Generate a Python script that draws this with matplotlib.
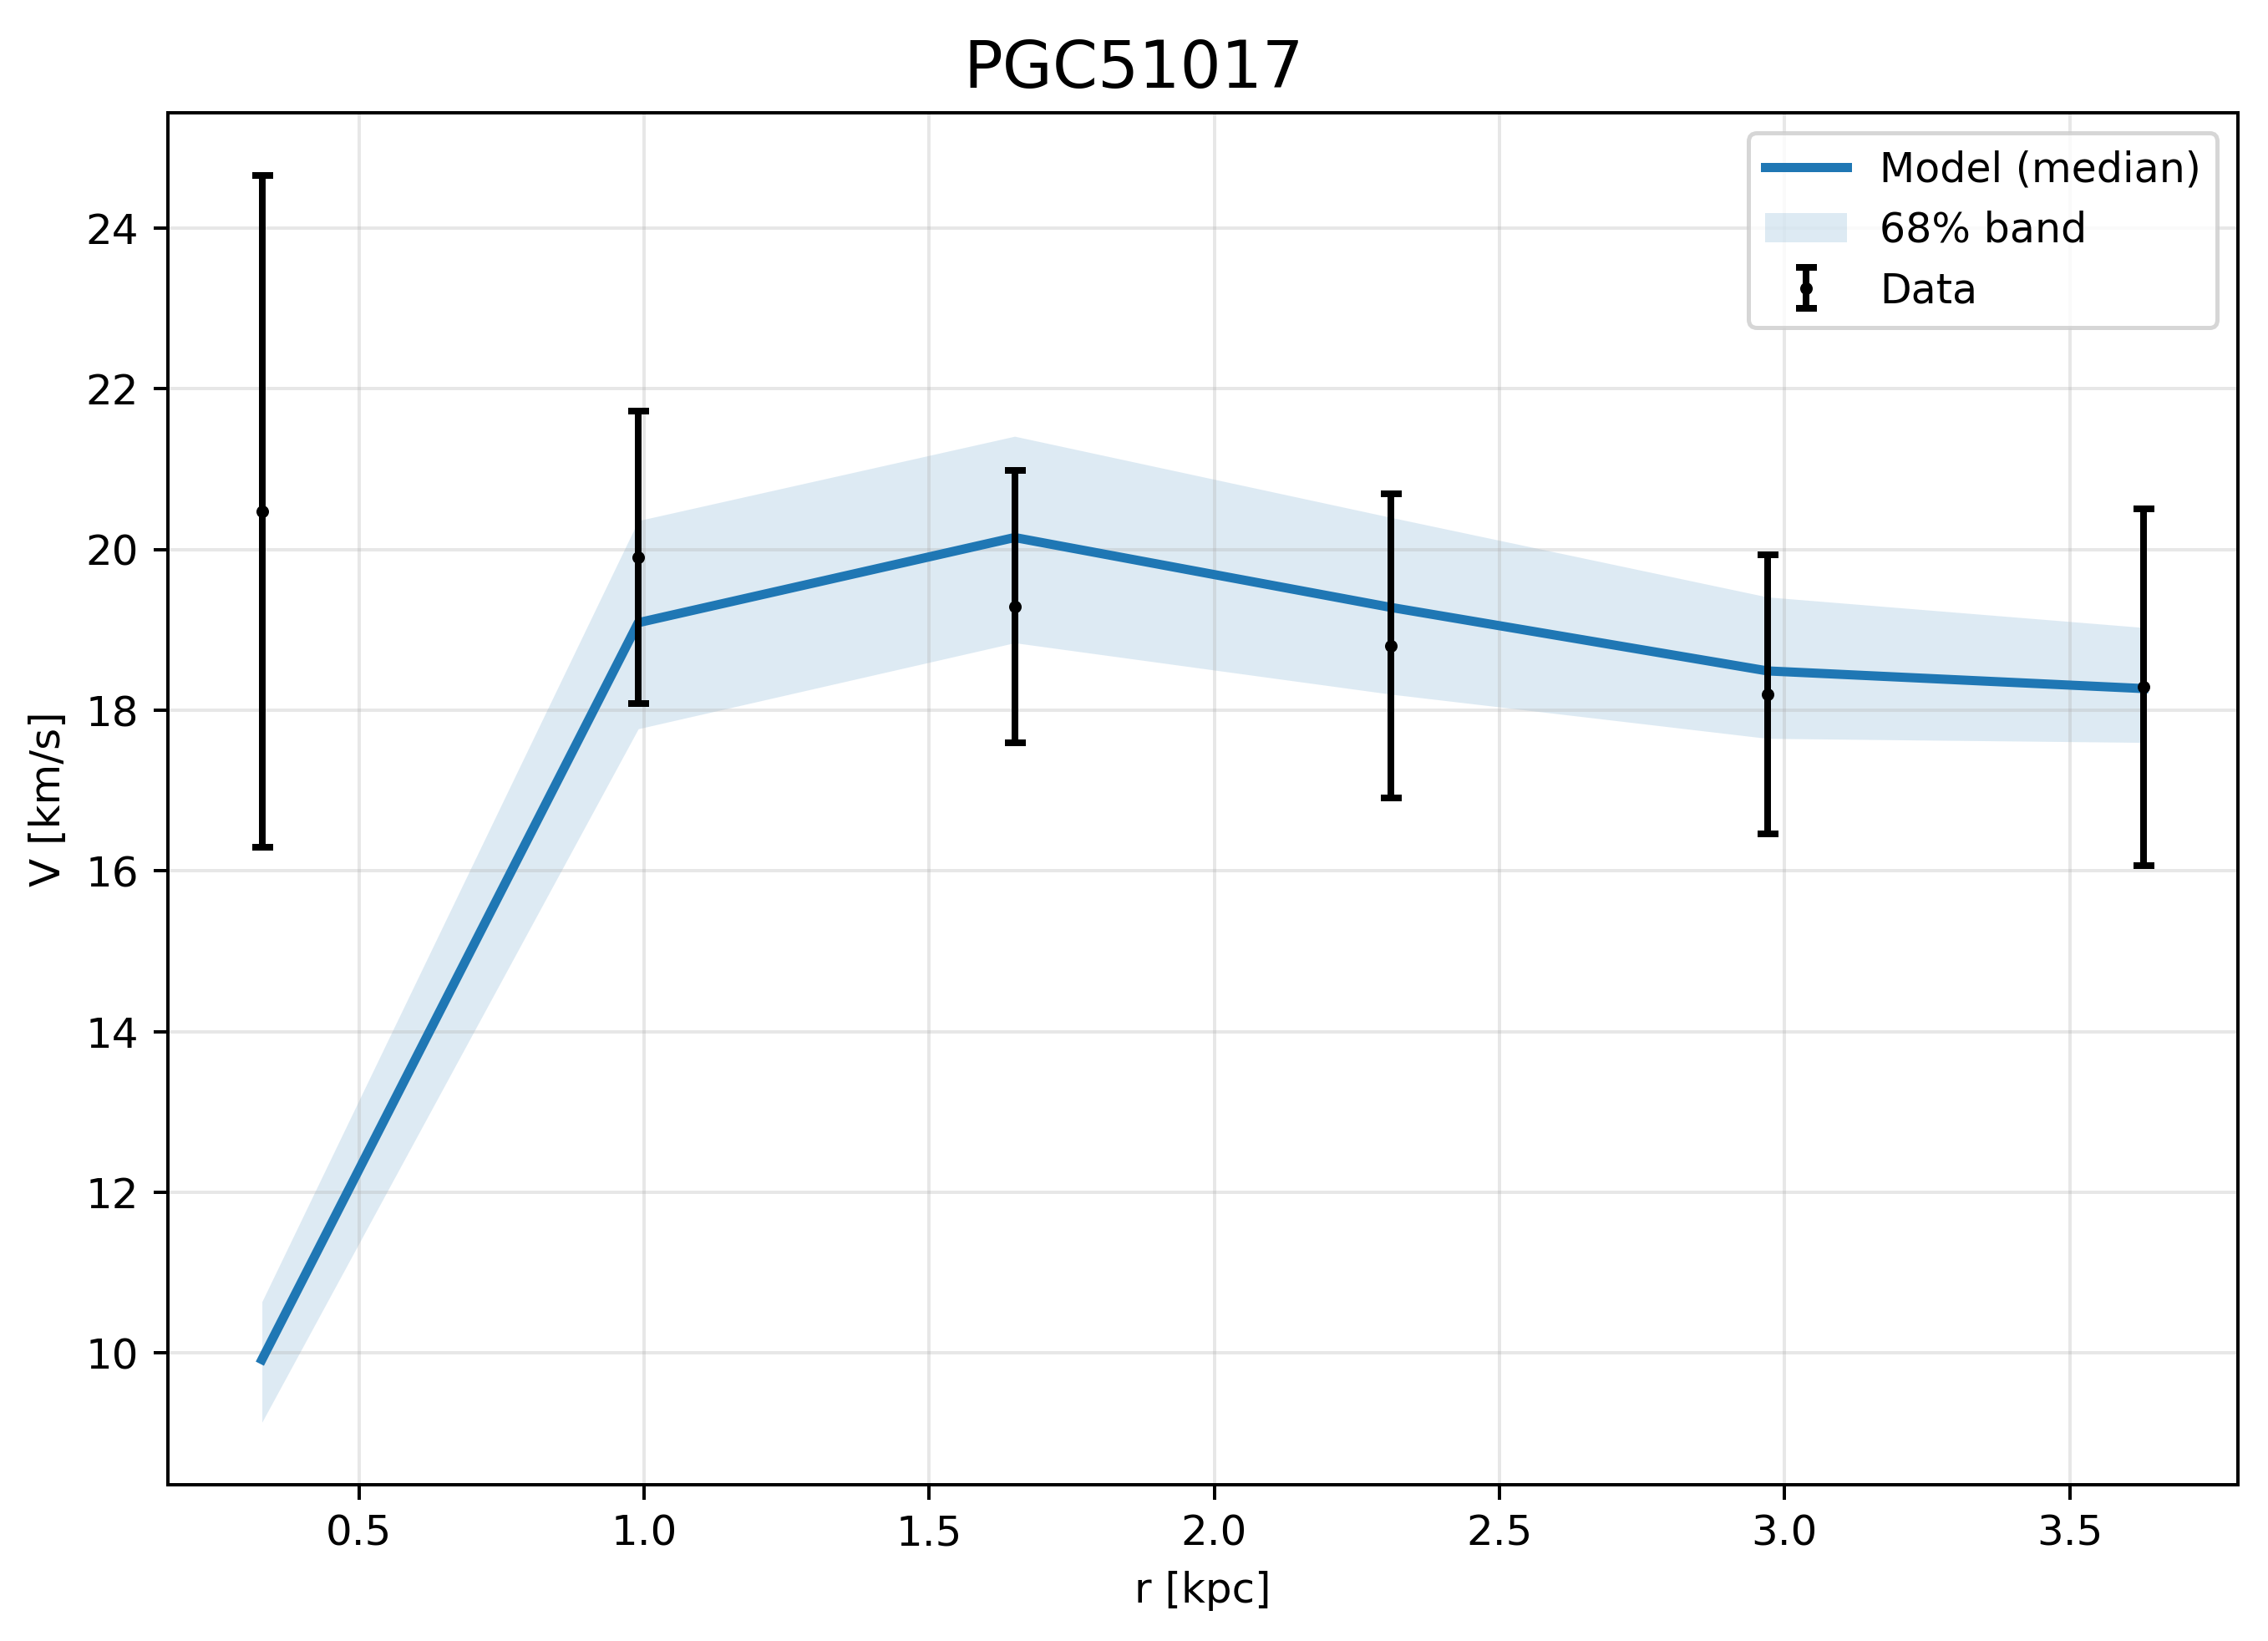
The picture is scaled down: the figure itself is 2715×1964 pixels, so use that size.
import matplotlib
matplotlib.use("Agg")
import matplotlib.pyplot as plt

# radii and observed rotation velocities
r_kpc = [0.33, 0.99, 1.65, 2.31, 2.97, 3.63]
v_obs = [20.48, 19.90, 19.29, 18.80, 18.20, 18.29]
v_err = [4.18, 1.82, 1.69, 1.89, 1.74, 2.22]

# model posterior: median and 68% band
v_med = [9.92, 19.09, 20.15, 19.28, 18.49, 18.27]
v_lo = [9.14, 17.77, 18.84, 18.20, 17.65, 17.60]
v_hi = [10.64, 20.36, 21.41, 20.40, 19.41, 19.03]

galaxy = "PGC51017"

fig = plt.figure(figsize=(2715 / 360, 1964 / 360), dpi=360)
ax = fig.add_axes([0.0740, 0.0953, 0.9127, 0.8360])

ax.plot(r_kpc, v_med, color="C0", lw=2.2, label="Model (median)")
ax.fill_between(r_kpc, v_lo, v_hi, color="C0", alpha=0.15, lw=0, label="68% band")
ax.errorbar(r_kpc, v_obs, yerr=v_err, fmt="o", color="k", ms=2,
            elinewidth=1.6, capsize=2.5, capthick=1.6, label="Data")

ax.set_xlabel("r [kpc]")
ax.set_ylabel("V [km/s]")
fig.suptitle(galaxy, fontsize=15.5, y=0.977)
ax.grid(alpha=0.3)
ax.legend(loc="upper right", fontsize=9.8)

fig.savefig("out.png", dpi=360)
